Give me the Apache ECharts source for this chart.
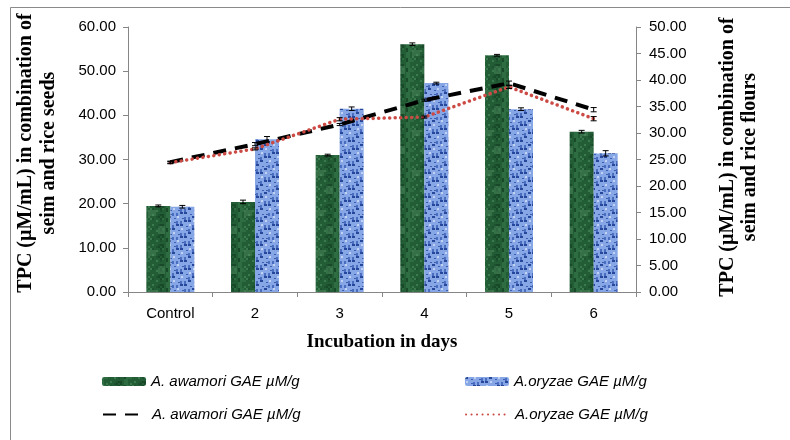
<!DOCTYPE html>
<html>
<head>
<meta charset="utf-8">
<script src="https://cdn.jsdelivr.net/npm/echarts@6/dist/echarts.min.js"></script>
<style>html,body{margin:0;padding:0;background:#fff}#c{width:790px;height:440px}</style>
</head>
<body>
<div id="c"></div>
<script>
const categories = ['Control', '2', '3', '4', '5', '6'];
const awamoriBar = [19.5, 20.4, 31.0, 56.1, 53.6, 36.3];
const awamoriBarErr = [0.2, 0.4, 0.2, 0.3, 0.2, 0.3];
const oryzaeBar = [19.3, 34.6, 41.5, 47.3, 41.4, 31.4];
const oryzaeBarErr = [0.3, 0.6, 0.4, 0.2, 0.3, 0.6];
const awamoriLine = [24.5, 27.9, 31.6, 36.2, 39.4, 34.4];
const awamoriLineErr = [0.2, 0.3, 0.2, 0.2, 0.4, 0.4];
const oryzaeLine = [24.4, 27.0, 32.6, 33.0, 38.7, 32.7];
const oryzaeLineErr = [0.2, 0.2, 0.3, 0.2, 0.3, 0.4];
const leftTicks = {min: 0, max: 60, interval: 10};
const rightTicks = {min: 0, max: 50, interval: 5};
const legendLabels = {
  awamoriBar: 'A. awamori GAE µM/g',
  oryzaeBar: 'A.oryzae GAE µM/g',
  awamoriLine: 'A. awamori GAE µM/g',
  oryzaeLine: 'A.oryzae GAE µM/g'
};

function greenPattern() {
  const c = document.createElement('canvas');
  c.width = 24; c.height = 40;
  const g = c.getContext('2d');
  g.fillStyle = '#235d35'; g.fillRect(0, 0, 24, 40);
  for (let y = 0; y < 40; y += 2) {
    for (let x = 0; x < 24; x += 2) {
      const k = (x * 7 + y * 13 + ((x * y) % 5)) % 13;
      let col = null;
      if (k < 3) col = '#2e6c42';
      else if (k > 10) col = '#184a29';
      else if (k === 6) col = '#3b7a4f';
      else if (k === 8) col = '#1d5230';
      if (col) { g.fillStyle = col; g.fillRect(x, y, 2, 2); }
    }
  }
  g.fillStyle = 'rgba(90,150,105,0.35)';
  g.fillRect(4, 10, 8, 6); g.fillRect(14, 26, 7, 8);
  return c;
}
function bluePattern() {
  const c = document.createElement('canvas');
  c.width = 24; c.height = 24;
  const g = c.getContext('2d');
  g.fillStyle = '#86a6e6'; g.fillRect(0, 0, 24, 24);
  for (let y = 0; y < 24; y += 4) {
    for (let x = 0; x < 24; x += 4) {
      const k = (x * 5 + y * 3) % 7;
      if (k < 2) { g.fillStyle = '#27479a'; g.fillRect(x, y, 3, 2); }
      else if (k < 4) { g.fillStyle = '#4a6dc0'; g.fillRect(x, y + 1, 2, 3); }
      else if (k === 5) { g.fillStyle = '#c0d1f3'; g.fillRect(x + 1, y, 2, 2); }
      else { g.fillStyle = '#3d5fb2'; g.fillRect(x + 2, y + 2, 2, 1); }
    }
  }
  return c;
}

const BAR_W = 24;
function errBarRender(side, cap) {
  return function (params, api) {
    const i = api.value(0), v = api.value(1), e = api.value(2);
    const a = api.coord([i, v + e]);
    const b = api.coord([i, v - e]);
    const dx = side * BAR_W / 2;
    const x = a[0] + dx;
    const st = {stroke: '#000', lineWidth: 1};
    return {type: 'group', children: [
      {type: 'line', shape: {x1: x, y1: a[1], x2: x, y2: b[1]}, style: st},
      {type: 'line', shape: {x1: x - cap, y1: a[1], x2: x + cap, y2: a[1]}, style: st},
      {type: 'line', shape: {x1: x - cap, y1: b[1], x2: x + cap, y2: b[1]}, style: st}
    ]};
  };
}
function errData(vals, errs) { return vals.map((v, i) => [i, v, errs[i]]); }

const chart = echarts.init(document.getElementById('c'), null, {renderer: 'canvas'});
const axisGray = '#868686';
const tickFont = {fontFamily: 'Liberation Sans', fontSize: 15, color: '#000'};
const legFont = {fontFamily: 'Liberation Sans', fontSize: 15, fontStyle: 'italic', color: '#000'};
const titleFont = {fontFamily: 'Liberation Serif', fontWeight: 'bold', fill: '#000'};

function leg(name, left, top, w, h, extra) {
  return Object.assign({data: [name], left: left, top: top, itemWidth: w, itemHeight: h, itemGap: 0,
    selectedMode: false, formatter: n => legendLabels[n], textStyle: legFont, padding: 0}, extra || {});
}
const lineLegText = Object.assign({padding: [0, 0, 0, 4]}, legFont);

chart.setOption({
  animation: false,
  backgroundColor: '#fff',
  grid: {left: 128, right: 154, top: 27, bottom: 148},
  xAxis: {
    type: 'category', data: categories,
    axisLine: {lineStyle: {color: axisGray}},
    axisTick: {show: true, alignWithLabel: false, length: 5, lineStyle: {color: axisGray}},
    axisLabel: Object.assign({margin: 14}, tickFont)
  },
  yAxis: [
    {type: 'value', min: leftTicks.min, max: leftTicks.max, interval: leftTicks.interval,
     axisLine: {show: true, lineStyle: {color: axisGray}},
     axisTick: {show: true, length: 5, lineStyle: {color: axisGray}},
     splitLine: {show: false},
     axisLabel: Object.assign({formatter: v => v.toFixed(2), margin: 12}, tickFont)},
    {type: 'value', position: 'right', min: rightTicks.min, max: rightTicks.max, interval: rightTicks.interval,
     axisLine: {show: true, lineStyle: {color: axisGray}},
     axisTick: {show: true, length: 5, lineStyle: {color: axisGray}},
     splitLine: {show: false},
     axisLabel: Object.assign({formatter: v => v.toFixed(2), margin: 13}, tickFont)}
  ],
  legend: [
    leg('awamoriBar', 102, 374, 44, 9),
    leg('oryzaeBar', 465, 374, 44, 9),
    leg('awamoriLine', 102, 407, 40, 12, {itemStyle: {opacity: 0}, textStyle: lineLegText}),
    leg('oryzaeLine', 465, 407, 40, 12, {itemStyle: {opacity: 0}, textStyle: lineLegText})
  ],
  graphic: [
    {type: 'line', shape: {x1: 10.5, y1: 7.5, x2: 10.5, y2: 440}, style: {stroke: '#8a8a8a', lineWidth: 1}},
    {type: 'line', shape: {x1: 10.5, y1: 7.5, x2: 790, y2: 7.5}, style: {stroke: '#8a8a8a', lineWidth: 1}},
    {type: 'text', x: 37, y: 153, rotation: Math.PI / 2,
     style: Object.assign({text: 'TPC (µM/mL) in combination of\nseim and rice seeds', fontSize: 20,
       lineHeight: 23, textAlign: 'center', textVerticalAlign: 'middle'}, titleFont)},
    {type: 'text', x: 739, y: 157, rotation: Math.PI / 2,
     style: Object.assign({text: 'TPC (µM/mL) in combination of\nseim and rice flours', fontSize: 20,
       lineHeight: 22, textAlign: 'center', textVerticalAlign: 'middle'}, titleFont)},
    {type: 'text', x: 382, y: 342,
     style: Object.assign({text: 'Incubation in days', fontSize: 19, textAlign: 'center', textVerticalAlign: 'middle'}, titleFont)}
  ],
  series: [
    {name: 'awamoriBar', type: 'bar', data: awamoriBar, barWidth: BAR_W, barGap: '0%',
     itemStyle: {color: {image: greenPattern(), repeat: 'repeat'}}, z: 2},
    {name: 'oryzaeBar', type: 'bar', data: oryzaeBar, barWidth: BAR_W, barGap: '0%',
     itemStyle: {color: {image: bluePattern(), repeat: 'repeat'}}, z: 2},
    {name: 'awamoriLine', type: 'line', yAxisIndex: 1, data: awamoriLine, symbol: 'none',
     lineStyle: {color: '#000', width: 4, type: [13, 9]}, itemStyle: {color: '#000'}, z: 5},
    {name: 'oryzaeLine', type: 'line', yAxisIndex: 1, data: oryzaeLine, symbol: 'none',
     lineStyle: {color: '#cc4a44', width: 3.5, type: [0.1, 5.4], cap: 'round'}, itemStyle: {color: '#cc4a44'}, z: 5},
    {type: 'custom', renderItem: errBarRender(-1, 3), data: errData(awamoriBar, awamoriBarErr), z: 6, silent: true},
    {type: 'custom', renderItem: errBarRender(1, 3), data: errData(oryzaeBar, oryzaeBarErr), z: 6, silent: true},
    {type: 'custom', yAxisIndex: 1, renderItem: errBarRender(0, 3), data: errData(awamoriLine, awamoriLineErr), z: 6, silent: true},
    {type: 'custom', yAxisIndex: 1, renderItem: errBarRender(0, 3), data: errData(oryzaeLine, oryzaeLineErr), z: 6, silent: true}
  ]
});
</script>
</body>
</html>
